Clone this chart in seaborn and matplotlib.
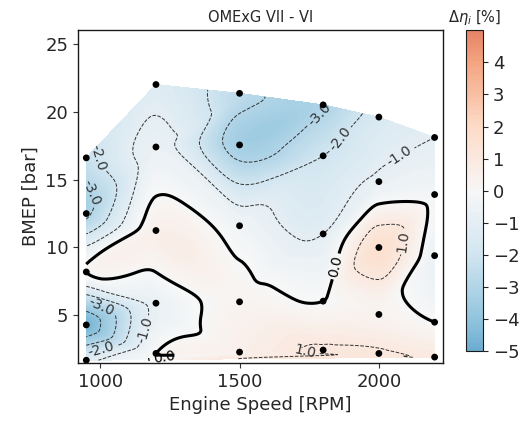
import numpy as np
import pandas as pd
import matplotlib
matplotlib.use("Agg")
import matplotlib.pyplot as plt
import matplotlib.tri as mtri
from matplotlib.colors import LinearSegmentedColormap
import seaborn as sns

# ---- data ----
speed = [950, 950, 950, 950, 950,
         1200, 1200, 1200, 1200, 1200,
         1500, 1500, 1500, 1500, 1500,
         1800, 1800, 1800, 1800, 1800,
         2000, 2000, 2000, 2000, 2000,
         2200, 2200, 2200, 2200, 2200]
bmep = [1.7, 4.3, 8.2, 12.5, 16.6,
        2.2, 5.9, 11.25, 17.4, 22.0,
        2.3, 6.0, 11.6, 17.55, 21.35,
        2.45, 6.05, 11.0, 16.75, 20.5,
        2.2, 5.07, 10.0, 14.85, 19.6,
        1.93, 4.5, 9.4, 13.9, 18.1]
delta_eta = [-1.3, -4.7, 0.02, -3.2, -2.3,
             0.0, -0.7, 0.5, -0.7, -1.3,
             0.5, 0.25, -0.4, -3.4, -2.6,
             1.1, 0.0, -1.0, -2.0, -3.1,
             1.1, 0.3, 1.6, -0.8, -1.6,
             0.9, 0.0, -0.6, -0.3, -1.0]
title = "OMExG VII - VI"
xticks = [1000, 1500, 2000]
yticks = [5, 10, 15, 20, 25]
cbar_ticks = [-5, -4, -3, -2, -1, 0, 1, 2, 3, 4]

df = pd.DataFrame({"speed": speed, "bmep": bmep, "d": delta_eta})

sns.set_style("ticks")
plt.rcParams["font.family"] = ["DejaVu Sans"]

base = plt.get_cmap("RdBu_r")
cmap = LinearSegmentedColormap.from_list("trunc", base(np.linspace(0.25, 0.75, 256)))

fig = plt.figure(figsize=(5.23, 4.25), dpi=100)
ax = fig.add_axes([0.149, 0.146, 0.698, 0.783])
cax = fig.add_axes([0.891, 0.173, 0.0325, 0.756])

tri = mtri.Triangulation(df["speed"].to_numpy(float), df["bmep"].to_numpy(float))
interp = mtri.CubicTriInterpolator(tri, df["d"].to_numpy(float), kind="geom")
refiner = mtri.UniformTriRefiner(tri)
tri_f, z_f = refiner.refine_field(df["d"].to_numpy(float), triinterpolator=interp, subdiv=5)

fill_levels = np.linspace(-5, 5, 201)
cf = ax.tricontourf(tri_f, np.clip(z_f, -5, 5), levels=fill_levels, cmap=cmap, vmin=-5, vmax=5)

line_levels = [-4, -3, -2, -1, 1, 2, 3]
cl = ax.tricontour(tri_f, z_f, levels=line_levels, colors="0.2",
                   linewidths=0.7, linestyles="--")
c0 = ax.tricontour(tri_f, z_f, levels=[0], colors="black", linewidths=2.2, linestyles="-")
ax.clabel(cl, fmt="%.1f", fontsize=10, inline=True)
ax.clabel(c0, fmt="%.1f", fontsize=10, inline=True)

sns.scatterplot(data=df, x="speed", y="bmep", color="black", s=24,
                edgecolor="none", ax=ax, legend=False, zorder=5)

ax.set_xlim(920, 2230)
ax.set_ylim(1.5, 26)
ax.set_xticks(xticks)
ax.set_yticks(yticks)
ax.tick_params(labelsize=13, color="0.2")
for s in ax.spines.values():
    s.set_color("0.1")
    s.set_linewidth(1.0)
ax.set_xlabel("Engine Speed [RPM]", fontsize=13)
ax.set_ylabel("BMEP [bar]", fontsize=13)
ax.set_title(title, fontsize=10.5)

cb = fig.colorbar(cf, cax=cax, ticks=cbar_ticks)
cb.ax.tick_params(labelsize=13)
cb.ax.set_title(r"$\Delta\eta_i$ [%]", fontsize=10.5)
cb.outline.set_linewidth(0.8)
cb.outline.set_edgecolor("0.1")

fig.savefig("out.png", dpi=100)
